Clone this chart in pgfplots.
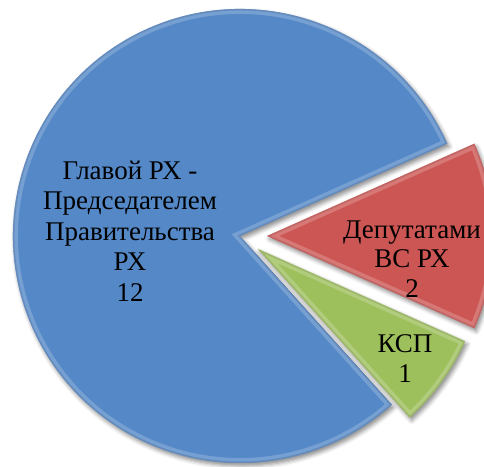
\documentclass[border=0pt]{standalone}
\usepackage{pgfplots}
\pgfplotsset{compat=1.18}
\usepackage{pgfplotstable}
\usepackage{fontspec}
\newfontfamily\fa{Liberation Serif}
\usetikzlibrary{shadows.blur}

\definecolor{cblue}{RGB}{84,136,199}
\definecolor{cred}{RGB}{204,86,83}
\definecolor{cgreen}{RGB}{158,192,92}

% value = number of items; explode in bp
\pgfplotstableread[col sep=comma]{
name,value,explode
Blue,12,0
Green,1,22
Red,2,27
}\piedata

\pgfplotstablegetelem{0}{value}\of\piedata \let\vBlue\pgfplotsretval
\pgfplotstablegetelem{1}{value}\of\piedata \let\vGreen\pgfplotsretval
\pgfplotstablegetelem{2}{value}\of\piedata \let\vRed\pgfplotsretval
\pgfplotstablegetelem{0}{explode}\of\piedata \let\eBlue\pgfplotsretval
\pgfplotstablegetelem{1}{explode}\of\piedata \let\eGreen\pgfplotsretval
\pgfplotstablegetelem{2}{explode}\of\piedata \let\eRed\pgfplotsretval

\pgfmathsetmacro\total{\vBlue+\vGreen+\vRed}
\pgfmathsetmacro\aA{24}
\pgfmathsetmacro\aB{\aA+360*\vBlue/\total}
\pgfmathsetmacro\aC{\aB+360*\vGreen/\total}
\pgfmathsetmacro\aD{\aC+360*\vRed/\total}

\newcommand\slicepath[4]{% start, end, explode, radius
  ([shift={({(#1+#2)/2}:#3bp)}]axis cs:240,231) -- ++(#1:#4bp)
  arc[start angle=#1,end angle=#2,radius=#4bp] -- cycle}

\newcommand\slice[4]{% color, start, end, explode
  \fill[#1,blur shadow={shadow xshift=2bp,shadow yshift=-3bp,shadow blur radius=4bp,shadow opacity=45}]
    \slicepath{#2}{#3}{#4}{227};
  \begin{scope}
    \clip \slicepath{#2}{#3}{#4}{227};
    \draw[#1!55!white,line width=10bp,opacity=0.45] \slicepath{#2}{#3}{#4}{227};
    \draw[#1!70!black,line width=3bp,opacity=0.3] \slicepath{#2}{#3}{#4}{227};
  \end{scope}}

\begin{document}
\begin{tikzpicture}
\useasboundingbox (0,0) rectangle (484bp,467bp);
\begin{axis}[
  width=484bp,height=467bp,scale only axis,
  xmin=0,xmax=484,ymin=0,ymax=467,
  hide axis,clip=false]
\pgfplotsextra{
  \slice{cblue}{\aA}{\aB}{\eBlue}
  \slice{cgreen}{\aB}{\aC}{\eGreen}
  \slice{cred}{\aC}{\aD}{\eRed}
}
\node[align=center,font=\fa\fontsize{27bp}{30.5bp}\selectfont] at (axis cs:130,236)
  {Главой РХ -\\Председателем\\Правительства\\РХ\\\vBlue};
\node[align=center,font=\fa\fontsize{27bp}{29.5bp}\selectfont] at (axis cs:412,208)
  {Депутатами\\ВС РХ\\\vRed};
\node[align=center,font=\fa\fontsize{27bp}{30bp}\selectfont] at (axis cs:405,108)
  {КСП\\\vGreen};
\end{axis}
\end{tikzpicture}
\end{document}
